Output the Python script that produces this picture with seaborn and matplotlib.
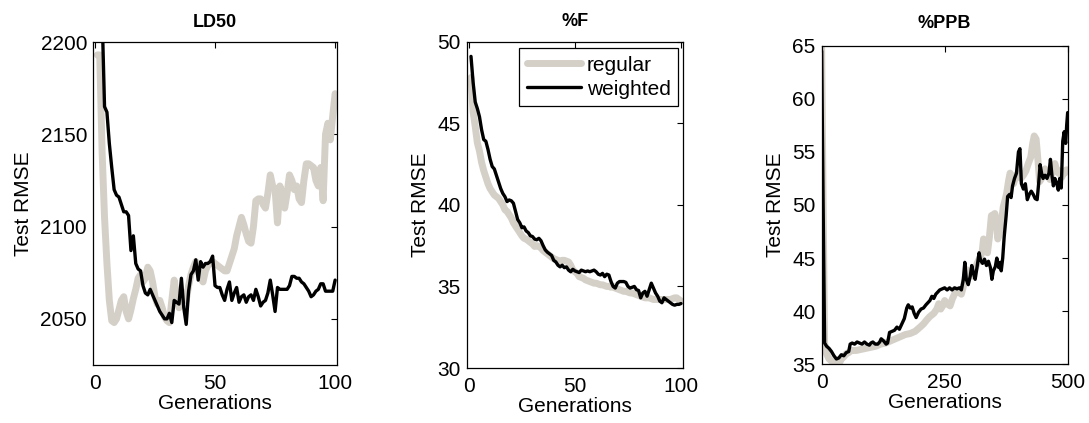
import numpy as np
import pandas as pd
import matplotlib
matplotlib.use("Agg")
import matplotlib.pyplot as plt
import seaborn as sns

# ---------------- data ----------------
# Panel 1: LD50 (generations 1..100)
ld50_gen = list(range(1, 101))
ld50_regular = [2193, 2193, 2140, 2105, 2080, 2060, 2049, 2048, 2050, 2055,
                2060, 2062, 2054, 2050, 2055, 2061, 2066, 2072, 2074, 2070,
                2072, 2078, 2076, 2070, 2062, 2058, 2060, 2056, 2051, 2049,
                2048, 2060, 2071, 2062, 2056, 2060, 2064, 2060, 2068, 2074,
                2078, 2081, 2076, 2072, 2070, 2076, 2079, 2080, 2081, 2080,
                2079, 2078, 2077, 2076, 2076, 2080, 2084, 2088, 2095, 2100,
                2105, 2101, 2096, 2092, 2091, 2100, 2114, 2115, 2115, 2112,
                2110, 2118, 2128, 2122, 2120, 2102, 2122, 2118, 2110, 2118,
                2128, 2125, 2120, 2122, 2115, 2113, 2125, 2134, 2134, 2133,
                2132, 2125, 2122, 2132, 2114, 2150, 2156, 2147, 2160, 2172]
ld50_weighted = [2280, 2250, 2215, 2165, 2162, 2145, 2132, 2120, 2117, 2116,
                 2112, 2108, 2108, 2106, 2087, 2095, 2080, 2077, 2076, 2068,
                 2064, 2063, 2066, 2063, 2060, 2057, 2054, 2052, 2050, 2050,
                 2053, 2048, 2060, 2059, 2058, 2072, 2056, 2047, 2065, 2074,
                 2076, 2082, 2071, 2081, 2078, 2080, 2080, 2081, 2084, 2068,
                 2067, 2067, 2063, 2060, 2066, 2070, 2060, 2064, 2067, 2059,
                 2062, 2063, 2059, 2062, 2063, 2060, 2066, 2062, 2057, 2059,
                 2060, 2064, 2071, 2063, 2054, 2067, 2066, 2066, 2066, 2066,
                 2068, 2073, 2073, 2072, 2072, 2070, 2069, 2067, 2065, 2062,
                 2063, 2065, 2066, 2069, 2069, 2065, 2065, 2065, 2065, 2071]

# Panel 2: %F (generations 1..100)
f_gen = list(range(1, 101))
f_regular = [47.8, 45.7, 44.8, 43.8, 43.3, 42.6, 42.1, 41.7, 41.3, 41.0,
             40.8, 40.6, 40.5, 40.4, 40.2, 40.0, 39.7, 39.6, 39.4, 39.2,
             38.9, 38.7, 38.5, 38.3, 38.1, 37.95, 37.9, 37.8, 37.7, 37.6,
             37.45, 37.5, 37.45, 37.35, 37.2, 37.1, 37.0, 36.9, 36.8, 36.7,
             36.65, 36.6, 36.5, 36.6, 36.6, 36.55, 36.5, 36.3, 36.0, 35.9,
             35.8, 35.6, 35.55, 35.5, 35.4, 35.35, 35.3, 35.25, 35.2, 35.2,
             35.15, 35.1, 35.1, 35.05, 35.0, 35.0, 34.95, 35.0, 34.9, 34.85,
             34.8, 34.75, 34.7, 34.7, 34.65, 34.6, 34.6, 34.55, 34.5, 34.45,
             34.4, 34.35, 34.3, 34.3, 34.3, 34.25, 34.2, 34.2, 34.2, 34.2,
             34.2, 34.2, 34.2, 34.2, 34.2, 34.25, 34.3, 34.3, 34.2, 34.1]
f_weighted = [49.1, 47.5, 46.3, 45.9, 45.4, 44.6, 44.0, 43.9, 43.4, 42.8,
              42.35, 42.2, 41.8, 41.4, 41.0, 40.7, 40.5, 40.2, 40.3, 40.25,
              40.1, 39.6, 39.1, 38.9, 38.6, 38.65, 38.4, 38.3, 38.1, 38.06,
              37.9, 37.86, 37.95, 37.8, 37.5, 37.24, 37.1, 37.0, 36.9, 36.6,
              36.5, 36.3, 36.2, 36.3, 36.15, 36.2, 36.0, 35.9, 36.05, 35.95,
              35.9, 35.85, 36.0, 35.95, 35.9, 35.95, 35.9, 35.95, 36.0, 35.9,
              35.75, 35.7, 35.8, 35.6, 35.75, 35.7, 35.3, 35.0, 34.9, 35.2,
              35.3, 35.3, 35.3, 35.25, 35.0, 34.9, 34.95, 35.0, 34.8, 34.75,
              34.3, 34.6, 34.7, 34.4, 34.8, 35.2, 34.9, 34.6, 34.4, 34.1,
              34.0, 34.3, 34.2, 34.1, 34.0, 33.9, 33.85, 33.9, 33.9, 33.95]

# Panel 3: %PPB (generations 0..500, read at irregular points)
ppb_reg_gen = [0, 3, 6, 10, 15, 20, 25, 30, 35, 40, 45, 50, 55, 60, 70, 80, 90,
               100, 110, 120, 130, 140, 150, 160, 170, 180, 190, 200, 207, 214,
               220, 228, 234, 238, 242, 246, 250, 255, 261, 266, 270, 274, 279,
               284, 289, 295, 300, 305, 310, 316, 322, 326, 329, 333, 337, 341,
               345, 349, 352, 355, 358, 362, 365, 369, 373, 376, 380, 383, 387,
               390, 395, 400, 405, 410, 415, 420, 425, 429, 432, 436, 440, 443,
               447, 451, 454, 458, 462, 464, 468, 471, 474, 478, 481, 484, 488,
               491, 494, 497, 500]
ppb_regular = [64.8, 50.0, 37.0, 36.0, 35.5, 35.3, 35.1, 35.2, 35.0, 35.5,
               35.7, 36.0, 36.1, 36.3, 36.3, 36.4, 36.5, 36.6, 36.7, 36.9,
               37.0, 37.2, 37.4, 37.6, 37.8, 37.9, 38.1, 38.5, 38.8, 39.2,
               39.5, 39.8, 40.2, 40.7, 40.2, 40.5, 41.0, 40.7, 40.5, 41.2,
               41.6, 42.0, 41.8, 41.6, 42.5, 43.9, 43.6, 43.3, 43.8, 44.5,
               45.1, 45.5, 46.8, 46.0, 45.5, 47.0, 49.0, 49.1, 49.2, 48.5,
               46.8, 47.5, 48.2, 49.8, 50.5, 51.1, 52.3, 53.0, 52.5, 52.0,
               52.8, 53.0, 52.5, 52.8, 53.2, 53.9, 54.5, 55.8, 56.5, 56.2,
               54.0, 52.2, 52.5, 53.2, 53.4, 52.8, 52.6, 52.4, 53.0, 53.6,
               53.9, 53.2, 53.0, 53.2, 52.6, 53.0, 53.0, 53.3, 53.3]
ppb_wt_gen = [0, 3, 6, 10, 15, 20, 25, 30, 35, 40, 45, 50, 55, 58, 62, 67, 72,
              77, 82, 87, 92, 97, 100, 104, 109, 114, 118, 121, 126, 131, 134,
              138, 143, 148, 153, 158, 163, 168, 173, 176, 180, 184, 188, 192,
              197, 202, 207, 212, 216, 220, 224, 228, 232, 236, 240, 245, 250,
              255, 260, 265, 270, 275, 280, 284, 288, 291, 294, 298, 302, 305,
              309, 312, 316, 320, 323, 327, 331, 335, 339, 343, 346, 349, 353,
              356, 360, 363, 365, 368, 371, 375, 378, 382, 385, 388, 392, 396,
              400, 403, 406, 410, 414, 418, 422, 426, 430, 434, 438, 441, 444,
              447, 450, 454, 458, 462, 465, 468, 471, 474, 478, 481, 484, 487,
              490, 493, 496, 498, 500]
ppb_weighted = [64.5, 50.0, 37.0, 36.7, 36.5, 36.2, 35.8, 35.5, 35.6, 35.9,
                35.8, 36.1, 36.2, 36.9, 37.0, 36.9, 37.1, 37.0, 36.9, 37.1,
                36.9, 36.8, 37.0, 37.1, 36.9, 36.9, 37.1, 37.4, 37.2, 36.9,
                37.0, 38.0, 38.1, 38.2, 38.5, 38.3, 38.8, 39.3, 40.3, 40.6,
                40.3, 40.4, 39.8, 39.4, 39.9, 40.2, 40.3, 40.6, 40.8, 41.0,
                41.4, 41.2, 41.6, 41.8, 42.0, 42.1, 42.2, 42.0, 42.2, 42.0,
                42.2, 42.1, 42.2, 42.0, 43.0, 44.6, 43.0, 42.5, 43.3, 44.3,
                43.5, 43.0, 44.2, 45.5, 44.8, 44.5, 44.9, 44.3, 44.7, 44.1,
                43.0, 43.8, 44.2, 45.0, 44.1, 44.6, 43.8, 45.0, 47.0, 49.0,
                50.8, 51.0, 50.7, 51.8, 52.5, 53.0, 55.0, 55.3, 52.0, 51.5,
                52.0, 50.5, 51.0, 51.3, 51.0, 50.6, 50.5, 52.0, 53.8, 53.0,
                52.5, 52.8, 52.5, 53.0, 54.3, 52.8, 51.8, 52.5, 52.0, 51.4,
                52.5, 51.6, 56.0, 56.9, 55.8, 57.5, 58.7]

titles = ["LD50", "%F", "%PPB"]
series_names = ["regular", "weighted"]

# ---------------- style ----------------
sns.set_theme(style="white")
plt.rcParams["font.family"] = ["Liberation Sans", "DejaVu Sans"]
plt.rcParams["axes.edgecolor"] = "black"
plt.rcParams["axes.linewidth"] = 0.9
plt.rcParams["text.color"] = "black"
plt.rcParams["axes.labelcolor"] = "black"
plt.rcParams["axes.titlecolor"] = "black"

GRAY = "#d4d0c8"
BLACK = "#000000"
LW_REG = 5.0
LW_WT = 2.4

fig = plt.figure(figsize=(10.89, 4.23), dpi=100)
ax1 = fig.add_axes([0.0854, 0.1371, 0.2241, 0.7636])
ax2 = fig.add_axes([0.4288, 0.1300, 0.1983, 0.7714])
ax3 = fig.add_axes([0.7545, 0.1388, 0.2259, 0.7532])

panels = [
    (ax1, ld50_gen, ld50_regular, ld50_gen, ld50_weighted),
    (ax2, f_gen, f_regular, f_gen, f_weighted),
    (ax3, ppb_reg_gen, ppb_regular, ppb_wt_gen, ppb_weighted),
]

for ax, xr, yr, xw, yw in panels:
    sns.lineplot(x=np.array(xr), y=np.array(yr), ax=ax, color=GRAY,
                 linewidth=LW_REG, estimator=None, errorbar=None,
                 label=series_names[0], legend=False)
    sns.lineplot(x=np.array(xw), y=np.array(yw), ax=ax, color=BLACK,
                 linewidth=LW_WT, estimator=None, errorbar=None,
                 label=series_names[1], legend=False)

ax1.set_xlim(-0.8, 100.8)
ax1.set_ylim(2025, 2200)
ax1.set_xticks([0, 50, 100])
ax1.set_yticks([2050, 2100, 2150, 2200])

ax2.set_xlim(-0.9, 100.9)
ax2.set_ylim(30, 50)
ax2.set_xticks([0, 50, 100])
ax2.set_yticks([30, 35, 40, 45, 50])

ax3.set_xlim(0, 500)
ax3.set_ylim(35, 65)
ax3.set_xticks([0, 250, 500])
ax3.set_yticks([35, 40, 45, 50, 55, 60, 65])

pads = [11, 11.3, 12.5]
for ax, t, p in zip([ax1, ax2, ax3], titles, pads):
    ax.set_title(t, fontsize=13, fontweight="bold", pad=p, color="black")
    ax.set_xlabel("Generations", fontsize=15, labelpad=0.5, color="black")
    ax.set_ylabel("Test RMSE", fontsize=15, labelpad=5.5, color="black")
    ax.tick_params(axis="x", direction="in", top=True, length=4,
                   width=0.8, pad=6.5, labelsize=15, colors="black")
    ax.tick_params(axis="y", direction="in", right=True, length=4,
                   width=0.8, pad=4.3, labelsize=15, colors="black")
    for s in ax.spines.values():
        s.set_visible(True)
        s.set_color("black")
    ax.grid(False)

leg = ax2.legend(loc="upper right", bbox_to_anchor=(0.978, 0.98),
                 borderaxespad=0, fontsize=15, frameon=True, fancybox=False,
                 edgecolor="black", framealpha=1, borderpad=0.35,
                 labelspacing=0.25, handlelength=2.6, handletextpad=0.3)
leg.get_frame().set_linewidth(0.9)

fig.savefig("out.png", dpi=100)
